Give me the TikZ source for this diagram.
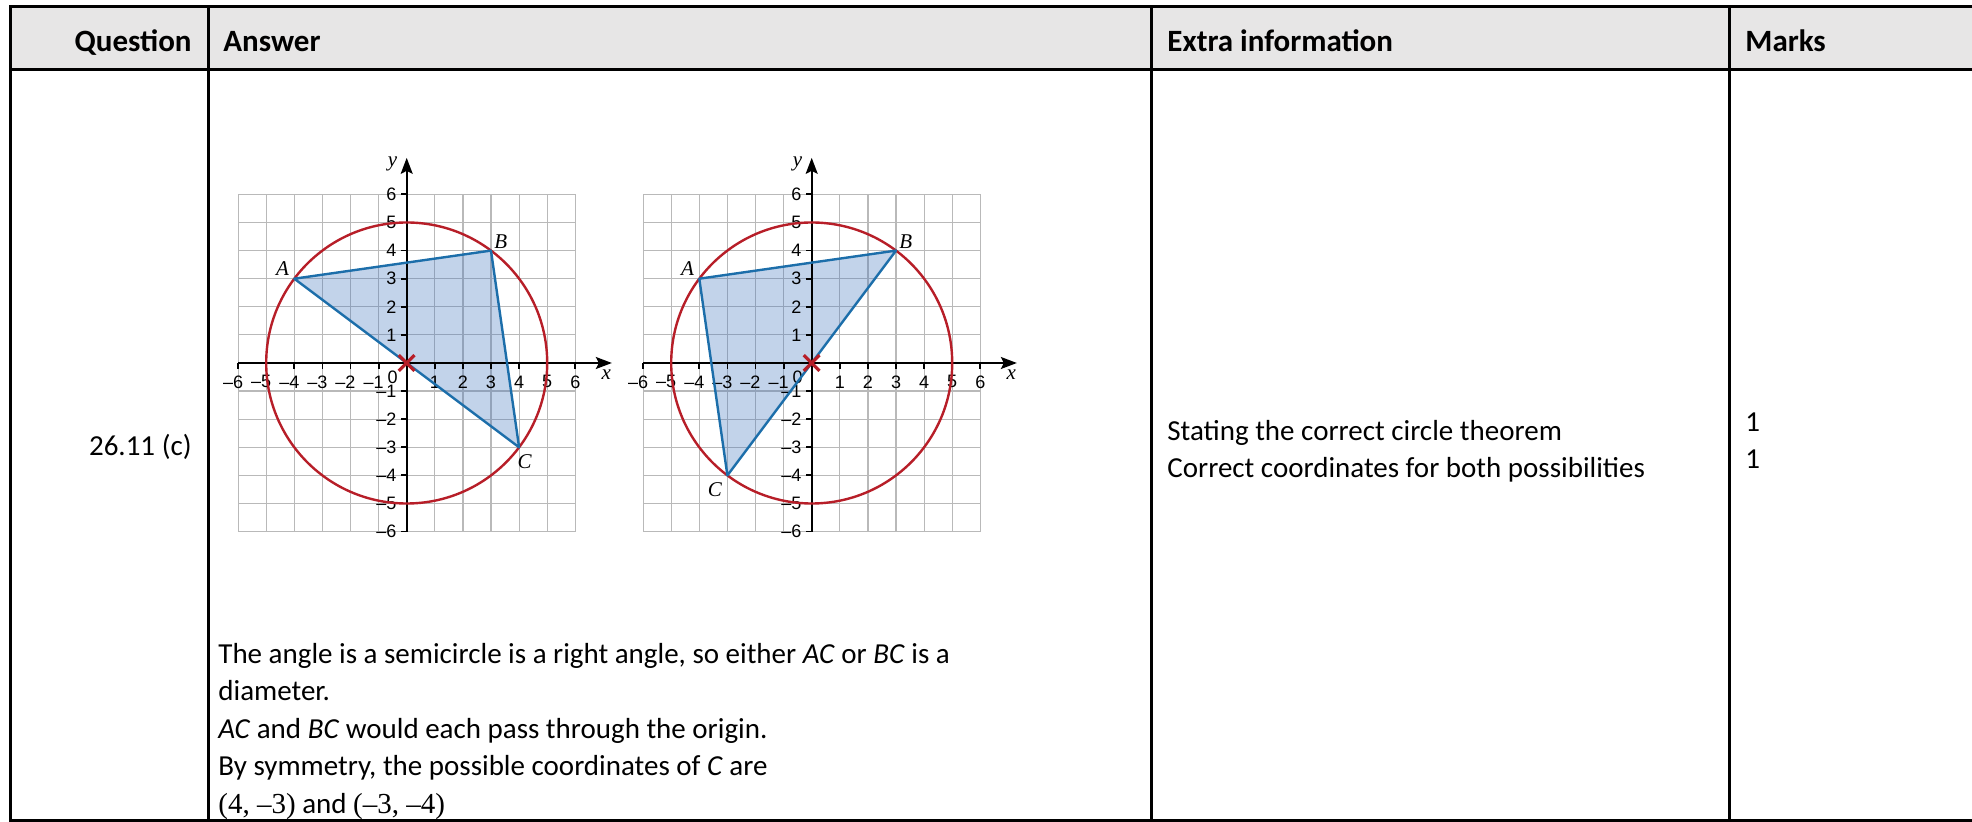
\documentclass[tikz,border=0pt]{standalone}
\usepackage{fontspec}
\setmainfont{Carlito}
\newfontfamily\ticksans{Liberation Sans}
\newfontfamily\timesserif{Liberation Serif}
\usepackage{xcolor}
\definecolor{headgray}{RGB}{231, 230, 230}
\definecolor{circred}{RGB}{183, 30, 40}
\definecolor{triblue}{RGB}{28, 110, 170}
\definecolor{trifill}{RGB}{70, 120, 190}
\definecolor{gridgray}{RGB}{185, 185, 185}
\usepackage{tikz}
\usetikzlibrary{arrows.meta}

\tikzset{
    rule/.style={line width=1.5pt},
    headtext/.style={font=\fontsize{15.5}{18}\selectfont\bfseries, inner sep=0pt},
    bodytext/.style={font=\fontsize{14.5}{18}\selectfont, inner sep=0pt, anchor=base west},
    ticklabel/.style={font=\ticksans\fontsize{9}{10}\selectfont, inner sep=0pt},
    ptlabel/.style={font=\timesserif\itshape\fontsize{10.5}{12}\selectfont, inner sep=0pt},
    gridline/.style={gridgray, line width=0.6pt},
    axisline/.style={line width=0.9pt, ->},
}

\begin{document}
\begin{tikzpicture}[x=0.5pt, y=-0.5pt, >={Stealth[length=8pt, width=6pt, inset=1.5pt]}]
    \useasboundingbox (0,0) rectangle (1972,822);
    \fill[headgray] (10,7) rectangle (1990,70);
    \draw[rule] (1990,7) -- (10,7) -- (10,821) -- (1990,821);
    \draw[rule] (10,70) -- (1990,70);
    \draw[rule] (208,7) -- (208,821);
    \draw[rule] (1151,7) -- (1151,821);
    \draw[rule] (1729,7) -- (1729,821);

    \node[headtext, anchor=base east] (qhead) at (192,52) {Question};
    \node[headtext, anchor=base west] (ahead) at (223,52) {Answer};
    \node[headtext, anchor=base west] (ehead) at (1167,52) {Extra information};
    \node[headtext, anchor=base west] (mhead) at (1745,52) {Marks};

    \node[bodytext, anchor=base east] (qnum) at (192,456) {26.11 (c)};
    \node[bodytext] (ans1) at (218,664) {The angle is a semicircle is a right angle, so either \textit{AC} or \textit{BC} is a};
    \node[bodytext] (ans2) at (218,701) {diameter.};
    \node[bodytext] (ans3) at (218,739) {\textit{AC} and \textit{BC} would each pass through the origin.};
    \node[bodytext] (ans4) at (218,776) {By symmetry, the possible coordinates of \textit{C} are};
    \node[bodytext] (ans5) at (218,814) {{\timesserif(4, –3)} and {\timesserif(–3, –4)}};
    \node[bodytext] (ext1) at (1167,441) {Stating the correct circle theorem};
    \node[bodytext] (ext2) at (1167,478) {Correct coordinates for both possibilities};
    \node[bodytext] (mk1) at (1745,432) {1};
    \node[bodytext] (mk2) at (1745,469) {1};

    \foreach \g/\ox/\cx/\cy/\clx/\cly in {1/406.7/4/-3/4.2/-3.5, 2/811.7/-3/-4/-3.45/-4.5} {
        \begin{scope}[shift={(\ox,363)}, x=14.05pt, y=14.05pt]
            \foreach \k in {-6,...,6} {
                \draw[gridline] (\k,-6) -- (\k,6);
                \draw[gridline] (-6,\k) -- (6,\k);
            }
            \coordinate (A\g) at (-4,3);
            \coordinate (B\g) at (3,4);
            \coordinate (C\g) at (\cx,\cy);
            \fill[trifill, fill opacity=0.33] (A\g) -- (B\g) -- (C\g) -- cycle;
            \draw[axisline] (-6,0) -- (7.3,0);
            \draw[axisline] (0,-6) -- (0,7.3);
            \foreach \k in {-6,...,6} {
                \draw[line width=0.9pt] (\k,0) -- (\k,-0.21);
                \draw[line width=0.9pt] (0,\k) -- (-0.21,\k);
            }
            \foreach \k in {-6,...,-1} {
                \pgfmathtruncatemacro\ak{abs(\k)}
                \node[ticklabel] (xl\g\k) at (\k,-0.67) {\llap{–}\ak};
                \node[ticklabel, anchor=east] (yl\g\k) at (-0.35,\k) {–\ak};
            }
            \foreach \k in {1,...,6} {
                \node[ticklabel] (xl\g\k) at (\k,-0.67) {\k};
                \node[ticklabel, anchor=east] (yl\g\k) at (-0.35,\k) {\k};
            }
            \node[ticklabel] (zero\g) at (-0.5,-0.5) {0};
            \draw[circred, line width=1.2pt] (0,0) circle (5);
            \draw[triblue, line width=1.2pt, line join=round] (A\g) -- (B\g) -- (C\g) -- cycle;
            \draw[circred, line width=1.6pt] (-0.28,-0.28) -- (0.28,0.28) (-0.28,0.28) -- (0.28,-0.28);
            \node[ptlabel] (xlab\g) at (7.1,-0.43) {x};
            \node[ptlabel] (ylab\g) at (-0.5,7.1) {y};
            \node[ptlabel] (la\g) at (-4.42,3.37) {A};
            \node[ptlabel] (lb\g) at (3.35,4.33) {B};
            \node[ptlabel] (lc\g) at (\clx,\cly) {C};
        \end{scope}
    }
\end{tikzpicture}
\end{document}
